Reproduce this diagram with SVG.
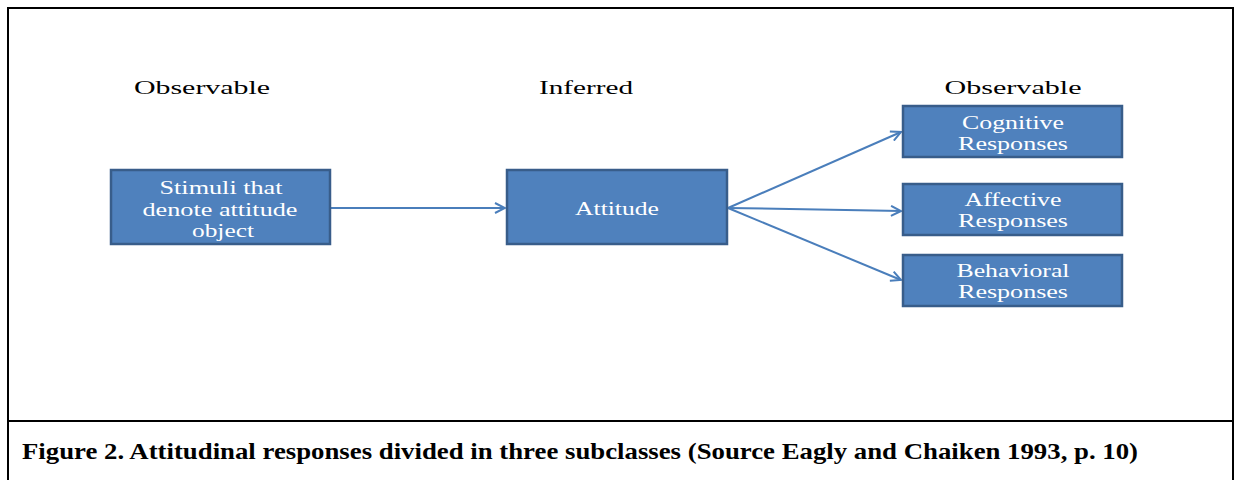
<svg xmlns="http://www.w3.org/2000/svg" width="1235" height="480" viewBox="0 0 1235 480">
<style>
.node rect{fill:#4F81BD;stroke:#385D8A;stroke-width:2.5}
.node text{fill:#fff;font-family:"Liberation Serif","Times New Roman",serif;font-size:18px;text-anchor:middle}
.hdr{fill:#000;font-family:"Liberation Serif","Times New Roman",serif;font-size:18px;text-anchor:middle}
.conn line{stroke:#4A7EBB;stroke-width:2;fill:none;marker-end:url(#arr)}
.cap{font-family:"Liberation Serif","Times New Roman",serif;font-weight:bold;font-size:24px}
</style>
<defs>
<marker id="arr" viewBox="0 0 12 12" refX="11" refY="6" markerWidth="12" markerHeight="12" markerUnits="userSpaceOnUse" orient="auto">
<path d="M1,1 L11,6 L1,11" fill="none" stroke="#4A7EBB" stroke-width="2"/>
</marker>
</defs>
<rect x="0" y="0" width="1235" height="480" fill="#fff"/>
<rect x="8" y="8" width="1225" height="480" fill="none" stroke="#000" stroke-width="2"/>
<line x1="8" y1="421" x2="1233" y2="421" stroke="#000" stroke-width="2"/>
<text class="hdr" x="202" y="94" textLength="136" lengthAdjust="spacingAndGlyphs">Observable</text>
<text class="hdr" x="586" y="94" textLength="94" lengthAdjust="spacingAndGlyphs">Inferred</text>
<text class="hdr" x="1013" y="94" textLength="137" lengthAdjust="spacingAndGlyphs">Observable</text>
<g class="conn">
<line x1="331" y1="208" x2="505" y2="208"/>
<line x1="728" y1="208" x2="901" y2="132"/>
<line x1="728" y1="208" x2="901" y2="211"/>
<line x1="728" y1="208" x2="901" y2="280"/>
</g>
<g id="stimuli" class="node">
<rect x="111" y="170" width="219" height="74"/>
<text x="221" y="194" textLength="123" lengthAdjust="spacingAndGlyphs">Stimuli that</text>
<text x="220" y="216" textLength="155" lengthAdjust="spacingAndGlyphs">denote attitude</text>
<text x="223" y="237" textLength="62" lengthAdjust="spacingAndGlyphs">object</text>
</g>
<g id="attitude" class="node">
<rect x="507" y="170" width="220" height="74"/>
<text x="617" y="215" textLength="84" lengthAdjust="spacingAndGlyphs">Attitude</text>
</g>
<g id="cognitive" class="node">
<rect x="903" y="106" width="219" height="51"/>
<text x="1013" y="129" textLength="102" lengthAdjust="spacingAndGlyphs">Cognitive</text>
<text x="1013" y="150" textLength="110" lengthAdjust="spacingAndGlyphs">Responses</text>
</g>
<g id="affective" class="node">
<rect x="903" y="184" width="219" height="51"/>
<text x="1013" y="206" textLength="97" lengthAdjust="spacingAndGlyphs">Affective</text>
<text x="1013" y="227" textLength="110" lengthAdjust="spacingAndGlyphs">Responses</text>
</g>
<g id="behavioral" class="node">
<rect x="903" y="255" width="219" height="51"/>
<text x="1013" y="277" textLength="113" lengthAdjust="spacingAndGlyphs">Behavioral</text>
<text x="1013" y="298" textLength="110" lengthAdjust="spacingAndGlyphs">Responses</text>
</g>
<text class="cap" x="22" y="459" textLength="1116" lengthAdjust="spacingAndGlyphs">Figure 2. Attitudinal responses divided in three subclasses (Source Eagly and Chaiken 1993, p. 10)</text>
</svg>
